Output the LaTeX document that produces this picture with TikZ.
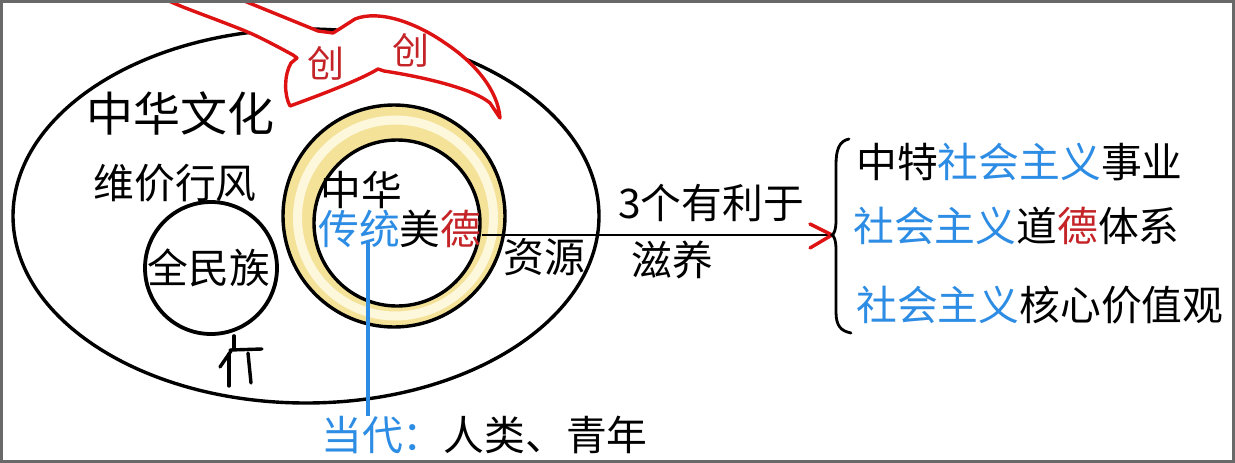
\documentclass[tikz,border=0pt]{standalone}
\usepackage{fontspec}
\setmainfont{Noto Sans CJK SC}
\definecolor{inkblue}{RGB}{45,140,228}
\definecolor{inkred}{RGB}{196,36,40}
\definecolor{penred}{RGB}{222,18,18}
\definecolor{ringgold}{RGB}{244,226,152}
\definecolor{ringlight}{RGB}{253,247,220}
\definecolor{framegray}{RGB}{105,105,105}
\tikzset{
  pen/.style={line width=3.4pt, line cap=round, line join=round},
  txt/.style={inner sep=0pt, font=\fontsize{40.8pt}{49pt}\selectfont},
  bigtxt/.style={inner sep=0pt, font=\fontsize{47pt}{56pt}\selectfont},
  chuang/.style={inner sep=0pt, text=inkred, font=\fontsize{37pt}{44pt}\selectfont},
}
\newcommand{\bl}[1]{\textcolor{inkblue}{#1}}
\newcommand{\rd}[1]{\textcolor{inkred}{#1}}
\begin{document}
\begin{tikzpicture}[x=1pt,y=-1pt]
\useasboundingbox (0,0) rectangle (1235,463);
\fill[white] (0,0) rectangle (1235,463);

% outer ellipse: Chinese culture
\draw[pen] (306,216) ellipse [x radius=293pt, y radius=187pt];

% golden ring around the traditional virtues
\fill[ringgold, even odd rule] (394,216) circle (111pt) (397,223) circle (83pt);
\draw[ringlight, line width=9pt] (395.5,218) circle (98pt);
\node[circle, draw, line width=3.4pt, minimum size=222pt, inner sep=0pt] (ringout) at (394,216) {};
\node[circle, draw, line width=3.4pt, minimum size=166pt, inner sep=0pt] (ringin) at (397,223) {};

% small circle: the whole nation
\node[circle, draw, line width=3.8pt, minimum size=132pt, inner sep=0pt] (nation) at (211,268) {};

% little figure under the circle
\coordinate (neck) at (nation.south -| 234,0);
\draw[pen] (neck) -- (234,349);
\draw[pen] (230,350) -- (262,349);
\draw[pen] (231,351) -- (220,367);
\draw[pen] (229,354) -- (229,386);
\draw[pen] (248,353) -- (251,383);

% red banner over the top of the ellipse
\path[fill=white] plot[smooth, tension=0.5] coordinates {(158,-4) (183,7) (250,33) (293,55)}
  -- (297,58) -- (291,63) .. controls (284,75) and (284,95) .. (290,106)
  .. controls (320,95) and (360,80) .. (378,69) -- (384,71)
  .. controls (430,78) and (475,90) .. (490,103) -- (500,118)
  .. controls (498,90) and (474,62) .. (445,43) .. controls (418,24) and (380,9) .. (355,19)
  -- (341,28) -- (333,33) -- (318,31) -- (232,-4) -- cycle;
\draw[pen, penred] plot[smooth, tension=0.5] coordinates {(158,-4) (183,7) (250,33) (293,55)}
  -- (297,58) -- (291,63) .. controls (284,75) and (284,95) .. (290,106)
  .. controls (320,95) and (360,80) .. (378,69) -- (384,71)
  .. controls (430,78) and (475,90) .. (490,103) -- (500,118)
  .. controls (498,90) and (474,62) .. (445,43) .. controls (418,24) and (380,9) .. (355,19)
  -- (341,28) -- (333,33) -- (318,31) -- (232,-4);
\node[chuang] (cA) at (326,63) {创};
\node[chuang] (cB) at (411,50) {创};

% texts inside the ellipse
\node[bigtxt] (culture) at (180,113) {中华文化};
\node[txt] (values) at (175,183) {维价行风};
\node[txt] (whole) at (209,268) {全民族};
\node[txt, anchor=west] (zh) at (320,190) {中华};
\node[txt, anchor=west] (virtue) at (318,229) {\bl{传统}美\rd{德}};
\node[txt] (source) at (544,257) {资源};

% arrow towards the three benefits
\node[txt] (three) at (711,203) {3个有利于};
\node[txt] (nourish) at (672,260) {滋养};
\coordinate (tip) at (832,235);
\draw[line width=2.8pt] (ringin.east |- 0,235) -- (tip);
\draw[pen, penred] (810,224) -- (tip) -- (810,248);

% brace and the three results
\draw[line width=2.8pt, line cap=round] (849,139) .. controls (839,141) and (836,150) .. (836,165)
  -- (836,220) .. controls (836,230) and (834,234) .. (tip)
  .. controls (834,236) and (836,240) .. (836,250)
  -- (836,312) .. controls (836,326) and (841,331) .. (851,333);
\node[txt, anchor=west] (r1) at (856,162) {中特\bl{社会主义}事业};
\node[txt, anchor=west] (r2) at (853,226) {\bl{社会主义}道\rd{德}体系};
\node[txt, anchor=west] (r3) at (856,305) {\bl{社会主义}核心价值观};

% present-day link
\node[txt, anchor=west] (today) at (321,435) {\bl{当代：}人类、青年};
\coordinate (tong) at (368,242);
\draw[inkblue, line width=3.2pt] (tong) -- (tong |- today.north);

% frame
\draw[framegray, line width=2.5pt] (1.25,1.25) rectangle (1233.5,461.5);
\end{tikzpicture}
\end{document}
